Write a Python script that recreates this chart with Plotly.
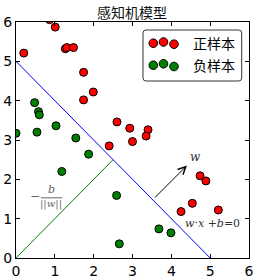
import plotly.graph_objects as go

# ---- data ----
pos_x = [0.86, 1.01, 0.20, 1.27, 1.31, 1.48, 1.74, 1.99, 1.74, 2.60, 2.93, 3.40, 3.35, 3.00, 2.40, 4.74, 4.89, 4.54, 4.25, 5.21]
pos_y = [6.06, 5.87, 5.21, 5.32, 5.35, 5.35, 4.72, 4.22, 4.02, 3.46, 3.30, 3.26, 3.10, 2.96, 2.85, 2.09, 1.96, 1.39, 1.18, 1.22]
neg_x = [0.48, 0.58, 0.60, 0.00, 0.54, 1.03, 1.54, 1.87, 1.18, 2.59, 2.66, 3.68, 3.99]
neg_y = [3.95, 3.72, 3.64, 3.17, 3.20, 3.36, 3.05, 2.64, 2.20, 1.59, 0.36, 0.74, 0.64]
hyper_x = [0, 5]
hyper_y = [5, 0]
dist_x = [0, 2.5]
dist_y = [0, 2.5]
ticks = [0, 1, 2, 3, 4, 5, 6]
title = "感知机模型"
labels = ["正样本", "负样本"]

RED = "#ff0000"
GREEN = "#008000"
CJK = "Noto Sans CJK SC"

fig = go.Figure()
fig.add_trace(go.Scatter(x=hyper_x, y=hyper_y, mode="lines",
                         line=dict(color="#0000ff", width=1), showlegend=False))
fig.add_trace(go.Scatter(x=dist_x, y=dist_y, mode="lines",
                         line=dict(color=GREEN, width=1), showlegend=False))
fig.add_trace(go.Scatter(x=pos_x, y=pos_y, mode="markers", name=labels[0],
                         marker=dict(color=RED, size=8, line=dict(color="black", width=1)),
                         showlegend=False))
fig.add_trace(go.Scatter(x=neg_x, y=neg_y, mode="markers", name=labels[1],
                         marker=dict(color=GREEN, size=8, line=dict(color="black", width=1)),
                         showlegend=False))

W, H = 259, 279
ml, mr, mt, mb = 16, 10, 22, 21
pw, ph = W - ml - mr, H - mt - mb

def px2paper(px, py):
    return (px - ml) / pw, (H - mb - py) / ph

shapes = []
annotations = []

# legend box (rounded)
x0, y0 = px2paper(143, 30)
x1, y1 = px2paper(241.7, 81)
rx, ry = 3 / pw, 3 / ph
path = (f"M{x0+rx},{y0} L{x1-rx},{y0} Q{x1},{y0} {x1},{y0-ry} "
        f"L{x1},{y1+ry} Q{x1},{y1} {x1-rx},{y1} L{x0+rx},{y1} "
        f"Q{x0},{y1} {x0},{y1+ry} L{x0},{y0-ry} Q{x0},{y0} {x0+rx},{y0} Z")
shapes.append(dict(type="path", xref="paper", yref="paper", path=path,
                   line=dict(color="#333333", width=1), fillcolor="white", layer="above"))

leg_rows = [
    (RED, [(153.3, 43.2), (163.5, 42.0), (174.0, 44.2)], 43.2, labels[0]),
    (GREEN, [(153.3, 65.2), (163.5, 63.8), (174.0, 66.5)], 65.2, labels[1]),
]
for color, dots, ty, lab in leg_rows:
    for (dx, dy) in dots:
        ax_, ay_ = px2paper(dx, dy)
        r = 4.3
        shapes.append(dict(type="circle", xref="paper", yref="paper",
                           xsizemode="pixel", ysizemode="pixel",
                           xanchor=ax_, yanchor=ay_, x0=-r, x1=r, y0=-r, y1=r,
                           fillcolor=color, line=dict(color="black", width=1), layer="above"))
    tx, tyy = px2paper(191, ty)
    annotations.append(dict(x=tx, y=tyy, xref="paper", yref="paper", text=lab,
                            showarrow=False, xanchor="left", yanchor="middle",
                            font=dict(family=CJK, size=14, color="black")))

# title
tx, tyy = px2paper(131.5, 12)
annotations.append(dict(x=tx, y=tyy, xref="paper", yref="paper", text=title,
                        showarrow=False, xanchor="center", yanchor="middle",
                        font=dict(family=CJK, size=14, color="#111111")))

# normal vector arrow
annotations.append(dict(x=4.40, y=2.35, ax=3.54, ay=1.50, xref="x", yref="y",
                        axref="x", ayref="y", showarrow=True, arrowhead=5,
                        arrowsize=1.5, arrowwidth=1, arrowcolor="black", text=""))
SERIF = "DejaVu Serif"
annotations.append(dict(x=4.61, y=2.56, xref="x", yref="y", text="<i>w</i>",
                        showarrow=False, font=dict(family=SERIF, size=12, color="#333333")))
annotations.append(dict(x=5.05, y=0.88, xref="x", yref="y",
                        text="<i>w</i>·<i>x</i> +<i>b</i>=0",
                        showarrow=False, font=dict(family=SERIF, size=11, color="#333333")))

# -b/||w|| label
GRAY = "#666666"
annotations.append(dict(x=0.48, y=1.58, xref="x", yref="y", text="−",
                        showarrow=False, font=dict(family=SERIF, size=12, color=GRAY)))
annotations.append(dict(x=0.91, y=1.74, xref="x", yref="y", text="<i>b</i>",
                        showarrow=False, font=dict(family=SERIF, size=11, color=GRAY)))
annotations.append(dict(x=0.91, y=1.38, xref="x", yref="y", text="||<i>w</i>||",
                        showarrow=False, font=dict(family=SERIF, size=10, color=GRAY)))
shapes.append(dict(type="line", xref="x", yref="y", x0=0.64, x1=1.19, y0=1.53, y1=1.53,
                   line=dict(color=GRAY, width=1)))

axis_common = dict(range=[0, 6], tickvals=ticks, ticks="inside", ticklen=4, tickwidth=1,
                   tickcolor="black", showline=True, linecolor="black", linewidth=1,
                   mirror="ticks", showgrid=False, zeroline=False, automargin=False,
                   tickfont=dict(family="DejaVu Sans", size=14, color="black"))

fig.update_layout(
    width=W, height=H,
    margin=dict(l=ml, r=mr, t=mt, b=mb, pad=0, autoexpand=False),
    paper_bgcolor="white", plot_bgcolor="white",
    xaxis=dict(**axis_common),
    yaxis=dict(**axis_common),
    shapes=shapes, annotations=annotations, showlegend=False,
)

fig.write_html("out.html")
